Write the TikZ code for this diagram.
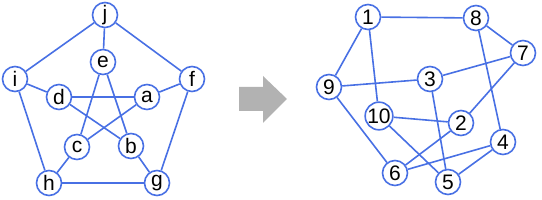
\documentclass[tikz,border=0pt]{standalone}
\usepackage{fontspec}
\setmainfont{Liberation Sans}
\definecolor{edgeblue}{RGB}{72,112,228}
\definecolor{arrowgray}{RGB}{178,178,178}
\begin{document}
\begin{tikzpicture}[x=1pt,y=-1pt,
  vert/.style={circle,draw=edgeblue,line width=1.6pt,fill=white,minimum size=25pt,inner sep=0pt,font=\fontsize{21}{21}\selectfont},
  edge/.style={draw=edgeblue,line width=1.6pt}]
\useasboundingbox (0,0) rectangle (542,200);
% left graph
\node[vert] (j) at (105,15) {j};
\node[vert] (e) at (103,62) {e};
\node[vert] (i) at (15,79) {i};
\node[vert] (f) at (192,79) {f};
\node[vert] (d) at (59,97) {d};
\node[vert] (a) at (147,97) {a};
\node[vert] (c) at (77,147) {c};
\node[vert] (b) at (131,146) {b};
\node[vert] (h) at (49,183) {h};
\node[vert] (g) at (157,183) {g};
% right graph
\node[vert] (n1) at (368,17) {1};
\node[vert] (n8) at (476,18) {8};
\node[vert] (n7) at (523,53) {7};
\node[vert] (n9) at (329,87) {9};
\node[vert] (n3) at (430,79) {3};
\node[vert] (n10) at (379,116) {10};
\node[vert] (n2) at (461,123) {2};
\node[vert] (n4) at (503,142) {4};
\node[vert] (n6) at (395,173) {6};
\node[vert] (n5) at (448,182) {5};
\foreach \u/\v in {j/e,j/i,j/f,i/d,i/h,f/a,f/g,d/a,d/b,e/c,e/b,a/c,c/h,b/g,h/g,
  n1/n8,n1/n9,n1/n10,n8/n7,n8/n4,n7/n3,n7/n2,n9/n3,n9/n6,n3/n5,n10/n2,n10/n5,n2/n6,n6/n4,n4/n5}
  \draw[edge] (\u) -- (\v);
% arrow
\fill[arrowgray] (239,87) -- (263,87) -- (263,76) -- (287,99) -- (263,123) -- (263,111) -- (239,111) -- cycle;
\end{tikzpicture}
\end{document}
